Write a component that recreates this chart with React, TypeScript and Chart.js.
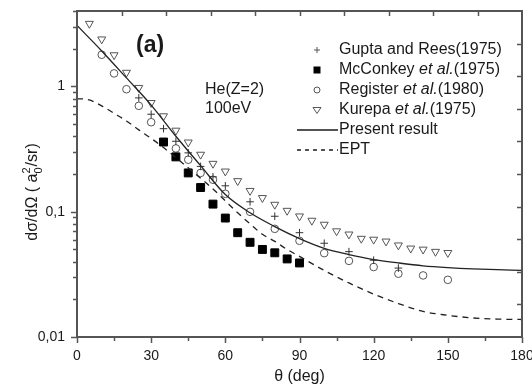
import React, { useEffect, useRef } from 'react';
import { Chart, registerables } from 'chart.js';

Chart.register(...registerables);

// ---------------- data ----------------
const guptaAngles = [25, 30, 35, 40, 45, 50, 55, 60, 70, 80, 90, 100, 110, 120, 130];
const guptaValues = [0.81, 0.6, 0.46, 0.365, 0.295, 0.23, 0.19, 0.161, 0.12, 0.092, 0.068, 0.056, 0.048, 0.041, 0.0355];

const mcconkeyAngles = [35, 40, 45, 50, 55, 60, 65, 70, 75, 80, 85, 90];
const mcconkeyValues = [0.36, 0.274, 0.204, 0.156, 0.115, 0.089, 0.068, 0.057, 0.05, 0.047, 0.042, 0.039];

const registerAngles = [10, 15, 20, 25, 30, 40, 45, 50, 55, 60, 70, 80, 90, 100, 110, 120, 130, 140, 150];
const registerValues = [1.79, 1.27, 0.95, 0.7, 0.518, 0.32, 0.26, 0.204, 0.18, 0.139, 0.0998, 0.073, 0.0586, 0.0467, 0.0405, 0.0362, 0.032, 0.031, 0.0286];

const kurepaAngles = [5, 10, 15, 20, 25, 30, 35, 40, 45, 50, 55, 60, 65, 70, 75, 80, 85, 90, 95, 100, 105, 110, 115, 120, 125, 130, 135, 140, 145, 150];
const kurepaValues = [3.17, 2.38, 1.78, 1.29, 0.976, 0.74, 0.58, 0.445, 0.358, 0.286, 0.242, 0.21, 0.176, 0.147, 0.129, 0.114, 0.102, 0.092, 0.085, 0.079, 0.07, 0.066, 0.061, 0.06, 0.058, 0.054, 0.051, 0.05, 0.048, 0.047];

const presentAngles = [0, 10, 20, 30, 40, 50, 60, 70, 80, 90, 100, 110, 120, 130, 140, 150, 160, 170, 180];
const presentValues = [3.07, 1.92, 1.17, 0.71, 0.4, 0.233, 0.137, 0.098, 0.076, 0.061, 0.051, 0.0455, 0.0415, 0.039, 0.037, 0.0358, 0.035, 0.0345, 0.034];

const eptAngles = [0, 5, 10, 15, 20, 25, 30, 35, 40, 45, 50, 55, 60, 65, 70, 75, 80, 85, 90, 100, 110, 120, 130, 140, 150, 160, 170, 180];
const eptValues = [0.8, 0.78, 0.7, 0.61, 0.53, 0.45, 0.385, 0.325, 0.27, 0.224, 0.185, 0.152, 0.122, 0.098, 0.08, 0.066, 0.058, 0.05, 0.044, 0.034, 0.027, 0.022, 0.0185, 0.016, 0.0149, 0.0142, 0.0139, 0.0138];

const xTickValues = [0, 30, 60, 90, 120, 150, 180];
const yTickValues = [0.01, 0.1, 1];

const FONT = '"Liberation Sans", Arial, Helvetica, sans-serif';
const INK = '#1a1a1a';
const AXIS = '#555555';
const MARK = '#555555';

const pts = (xs: number[], ys: number[]) => xs.map((x, i) => ({ x, y: ys[i] }));

function fmtComma(v: number) {
  return String(v).replace('.', ',');
}

function drawSymbol(ctx: CanvasRenderingContext2D, kind: string, x: number, y: number) {
  ctx.save();
  ctx.lineWidth = 1;
  if (kind === 'cross') {
    ctx.strokeStyle = MARK;
    ctx.beginPath();
    ctx.moveTo(x - 3, y); ctx.lineTo(x + 3, y);
    ctx.moveTo(x, y - 3); ctx.lineTo(x, y + 3);
    ctx.stroke();
  } else if (kind === 'rect') {
    ctx.fillStyle = '#000';
    ctx.fillRect(x - 3.5, y - 3.5, 7, 7);
  } else if (kind === 'circle') {
    ctx.strokeStyle = MARK;
    ctx.beginPath();
    ctx.arc(x, y, 3, 0, Math.PI * 2);
    ctx.stroke();
  } else if (kind === 'triangle') {
    ctx.strokeStyle = MARK;
    ctx.beginPath();
    ctx.moveTo(x - 4, y - 2.5);
    ctx.lineTo(x + 4, y - 2.5);
    ctx.lineTo(x, y + 3.5);
    ctx.closePath();
    ctx.stroke();
  }
  ctx.restore();
}

const decorPlugin = {
  id: 'decor',
  afterDraw(chart: any) {
    const ctx: CanvasRenderingContext2D = chart.ctx;
    const { left, right, top, bottom } = chart.chartArea;
    const xs = chart.scales.x;
    const ys = chart.scales.y;
    ctx.save();

    // frame
    ctx.strokeStyle = AXIS;
    ctx.lineWidth = 2;
    ctx.strokeRect(left, top, right - left, bottom - top);

    ctx.lineWidth = 1.5;
    ctx.beginPath();
    // bottom ticks (outward)
    for (let v = 0; v <= 180; v += 15) {
      const px = Math.round(xs.getPixelForValue(v)) + 0.5;
      const len = v % 30 === 0 ? 6 : 4;
      ctx.moveTo(px, bottom);
      ctx.lineTo(px, bottom + len);
    }
    // left ticks (outward)
    for (let e = -2; e <= 0; e++) {
      for (let k = 1; k <= 9; k++) {
        const v = k * Math.pow(10, e);
        if (v > ys.max) continue;
        const py = Math.round(ys.getPixelForValue(v)) + 0.5;
        const len = k === 1 ? 6 : 4;
        ctx.moveTo(left, py);
        ctx.lineTo(left - len, py);
      }
    }
    // top ticks (inward)
    for (let i = 1; i < 10; i++) {
      const px = Math.round(left + (i * (right - left)) / 10) + 0.5;
      ctx.moveTo(px, top);
      ctx.lineTo(px, top + 5);
    }
    // right ticks (inward)
    for (let i = 1; i < 10; i++) {
      const py = Math.round(top + (i * (bottom - top)) / 10) + 0.5;
      ctx.moveTo(right, py);
      ctx.lineTo(right - 5, py);
    }
    ctx.stroke();

    // axis titles
    ctx.fillStyle = INK;
    ctx.textBaseline = 'middle';
    ctx.textAlign = 'center';
    ctx.font = `16px ${FONT}`;
    ctx.fillText('\u03B8 (deg)', (left + right) / 2, 377);

    // y title: dσ/dΩ ( a0^2/sr)
    ctx.save();
    ctx.translate(33, 192);
    ctx.rotate(-Math.PI / 2);
    ctx.textAlign = 'left';
    const p1 = 'd\u03C3/d\u03A9 ( a';
    const p2 = '/sr)';
    ctx.font = `16px ${FONT}`;
    const w1 = ctx.measureText(p1).width;
    ctx.font = `11px ${FONT}`;
    const ws = ctx.measureText('2').width;
    ctx.font = `16px ${FONT}`;
    const w2 = ctx.measureText(p2).width;
    const total = w1 + ws + 1 + w2;
    let cx = -total / 2;
    ctx.fillText(p1, cx, 0);
    cx += w1;
    ctx.font = `11px ${FONT}`;
    ctx.fillText('2', cx, -6);
    ctx.fillText('0', cx, 6);
    cx += ws + 1;
    ctx.font = `16px ${FONT}`;
    ctx.fillText(p2, cx, 0);
    ctx.restore();

    // annotations
    ctx.textAlign = 'left';
    ctx.font = `bold 23px ${FONT}`;
    ctx.fillText('(a)', 136, 46);
    ctx.font = `16px ${FONT}`;
    ctx.fillText('He(Z=2)', 205, 90);
    ctx.fillText('100eV', 205, 109);

    // legend
    const lx = 339;
    const rows: { kind: string; parts: [string, boolean][] }[] = [
      { kind: 'cross', parts: [['Gupta and Rees(1975)', false]] },
      { kind: 'rect', parts: [['McConkey ', false], ['et al.', true], ['(1975)', false]] },
      { kind: 'circle', parts: [['Register ', false], ['et al.', true], ['(1980)', false]] },
      { kind: 'triangle', parts: [['Kurepa ', false], ['et al.', true], ['(1975)', false]] },
      { kind: 'solid', parts: [['Present result', false]] },
      { kind: 'dash', parts: [['EPT', false]] },
    ];
    rows.forEach((row, i) => {
      const y = 50 + i * 20;
      if (row.kind === 'solid' || row.kind === 'dash') {
        ctx.save();
        ctx.strokeStyle = INK;
        ctx.lineWidth = 1.3;
        if (row.kind === 'dash') ctx.setLineDash([4, 4]);
        ctx.beginPath();
        ctx.moveTo(297, y);
        ctx.lineTo(338, y);
        ctx.stroke();
        ctx.restore();
      } else {
        drawSymbol(ctx, row.kind, 317, y);
      }
      let tx = lx;
      row.parts.forEach(([t, it]) => {
        ctx.font = `${it ? 'italic ' : ''}16px ${FONT}`;
        ctx.fillText(t, tx, y);
        tx += ctx.measureText(t).width;
      });
    });

    ctx.restore();
  },
};

export default function App() {
  const canvasRef = useRef<HTMLCanvasElement | null>(null);

  useEffect(() => {
    document.body.style.margin = '0';
    const canvas = canvasRef.current;
    if (!canvas) return;

    const chart = new Chart(canvas, {
      type: 'scatter',
      data: {
        datasets: [
          {
            label: 'Present result',
            data: pts(presentAngles, presentValues),
            showLine: true,
            borderColor: '#222',
            borderWidth: 1.3,
            pointRadius: 0,
            cubicInterpolationMode: 'monotone',
          },
          {
            label: 'EPT',
            data: pts(eptAngles, eptValues),
            showLine: true,
            borderColor: '#222',
            borderWidth: 1.3,
            borderDash: [6, 5],
            pointRadius: 0,
            cubicInterpolationMode: 'monotone',
          },
          {
            label: 'Gupta and Rees(1975)',
            data: pts(guptaAngles, guptaValues),
            pointStyle: 'cross',
            pointRadius: 3.8,
            borderColor: '#333',
            borderWidth: 1,
          },
          {
            label: 'McConkey et al.(1975)',
            data: pts(mcconkeyAngles, mcconkeyValues),
            pointStyle: 'rect',
            pointRadius: 5.6,
            backgroundColor: '#000',
            borderColor: '#000',
            borderWidth: 1,
          },
          {
            label: 'Register et al.(1980)',
            data: pts(registerAngles, registerValues),
            pointStyle: 'circle',
            pointRadius: 3.8,
            backgroundColor: 'rgba(255,255,255,0)',
            borderColor: MARK,
            borderWidth: 1,
          },
          {
            label: 'Kurepa et al.(1975)',
            data: pts(kurepaAngles, kurepaValues),
            pointStyle: 'triangle',
            rotation: 180,
            pointRadius: 4.6,
            backgroundColor: 'rgba(255,255,255,0)',
            borderColor: MARK,
            borderWidth: 1,
          },
        ] as any,
      },
      options: {
        animation: false,
        responsive: false,
        devicePixelRatio: 1,
        layout: { padding: { top: 11, right: 10, left: 0, bottom: 0 } },
        plugins: {
          legend: { display: false },
          tooltip: { enabled: false },
        },
        scales: {
          x: {
            type: 'linear',
            min: 0,
            max: 180,
            afterBuildTicks: (s: any) => {
              s.ticks = xTickValues.map((v) => ({ value: v }));
            },
            afterFit: (s: any) => {
              s.height = 53;
              s.paddingLeft = 0;
              s.paddingRight = 0;
              s.paddingTop = 0;
              s.paddingBottom = 0;
            },
            grid: { display: false, drawTicks: false, tickLength: 0 },
            border: { display: false },
            ticks: {
              color: INK,
              font: { family: FONT, size: 14 },
              padding: 11,
              maxRotation: 0,
              autoSkip: false,
            },
          },
          y: {
            type: 'logarithmic',
            min: 0.01,
            max: 4,
            afterBuildTicks: (s: any) => {
              s.ticks = yTickValues.map((v) => ({ value: v }));
            },
            afterFit: (s: any) => {
              s.width = 77;
              s.paddingLeft = 0;
              s.paddingRight = 0;
              s.paddingTop = 0;
              s.paddingBottom = 0;
            },
            grid: { display: false, drawTicks: false, tickLength: 0 },
            border: { display: false },
            ticks: {
              color: INK,
              font: { family: FONT, size: 14 },
              padding: 12,
              autoSkip: false,
              callback: (v: any) => fmtComma(Number(v)),
            },
          },
        },
      } as any,
      plugins: [decorPlugin],
    });

    return () => chart.destroy();
  }, []);

  return (
    <div style={{ width: 532, height: 390, background: '#fff' }}>
      <canvas ref={canvasRef} width={532} height={390} style={{ display: 'block' }} />
    </div>
  );
}
